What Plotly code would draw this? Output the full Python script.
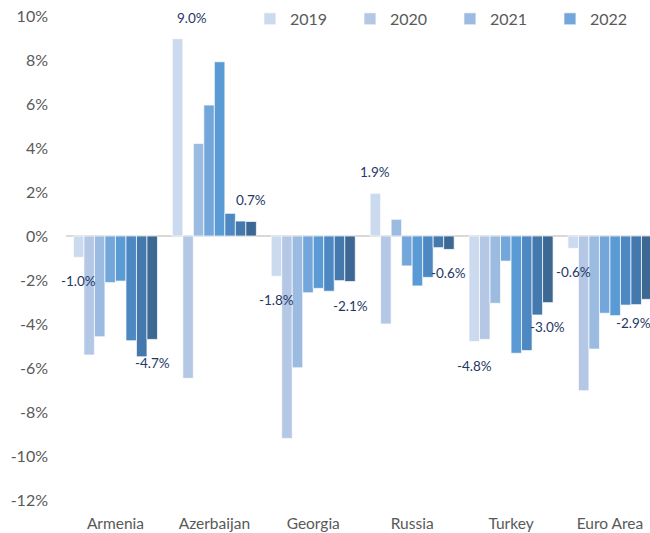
import plotly.graph_objects as go

categories = ["Armenia", "Azerbaijan", "Georgia", "Russia", "Turkey", "Euro Area"]
series_names = ["2019", "2020", "2021", "2022", "2023", "2024", "2025", "2026"]

s2019 = [-0.97, 8.97, -1.83, 1.94, -4.80, -0.56]
s2020 = [-5.41, -6.47, -9.20, -4.00, -4.70, -7.03]
s2021 = [-4.58, 4.21, -5.99, 0.76, -3.06, -5.14]
s2022 = [-2.12, 5.95, -2.58, -1.36, -1.14, -3.51]
s2023 = [-2.05, 7.92, -2.38, -2.27, -5.33, -3.62]
s2024 = [-4.76, 1.03, -2.51, -1.88, -5.21, -3.14]
s2025 = [-5.49, 0.68, -2.03, -0.53, -3.59, -3.12]
s2026 = [-4.70, 0.66, -2.07, -0.61, -3.03, -2.88]
series_values = [s2019, s2020, s2021, s2022, s2023, s2024, s2025, s2026]

y_ticks = [-12, -10, -8, -6, -4, -2, 0, 2, 4, 6, 8, 10]
y_ticktext = [f"{t}%" for t in y_ticks]

colors = ["#cbdaee", "#b4c8e6", "#9bbbe1", "#73a6da", "#5b9bd5", "#4d88c2", "#4479ad", "#3d6894"]

fig = go.Figure()
for i, (name, vals) in enumerate(zip(series_names, series_values)):
    fig.add_trace(go.Bar(
        x=categories, y=vals, name=name,
        marker=dict(color=colors[i], line=dict(color="white", width=0.7)),
        showlegend=(i < 4),
        hoverinfo="x+y+name",
    ))

# data labels for first and last series
n = len(series_names)
bargap = 0.15
bw = (1 - bargap) / n
label_nudge_x = {(1, 0): 14, (5, n - 1): -13}
annotations = []
for si in (0, n - 1):
    off = -(1 - bargap) / 2 + (si + 0.5) * bw
    for ci, v in enumerate(series_values[si]):
        annotations.append(dict(
            x=ci + off, y=v, xref="x", yref="y",
            text=f"{v:.1f}%", showarrow=False,
            yshift=21 if v > 0 else -24,
            xshift=label_nudge_x.get((ci, si), 0),
            font=dict(family="Lato", size=13.5, color="#1f3864"),
        ))

fig.update_layout(
    width=650, height=533,
    barmode="group", bargap=bargap, bargroupgap=0,
    plot_bgcolor="white", paper_bgcolor="white",
    margin=dict(l=66, r=0, t=16, b=33, autoexpand=False),
    font=dict(family="Lato", color="#595959", size=16),
    annotations=annotations,
    legend=dict(
        orientation="h", x=0.315, xanchor="left", y=0.994, yanchor="middle",
        font=dict(family="Lato", size=16, color="#595959"),
        entrywidth=55, bgcolor="rgba(0,0,0,0)",
    ),
    xaxis=dict(
        range=[-0.5, -0.5 + 584 / 98.9], showgrid=False, showline=False,
        ticks="", tickfont=dict(size=15.5, color="#595959"), automargin=False,
        ticklabelstandoff=12,
    ),
    yaxis=dict(
        range=[-12, 10], tickvals=y_ticks, ticktext=y_ticktext, showgrid=False,
        zeroline=True, zerolinecolor="#d9d9d9", zerolinewidth=1.5,
        showline=False, ticks="", ticklabelstandoff=17, automargin=False,
        tickfont=dict(size=16, color="#595959"),
    ),
)

fig.write_html("out.html", config={"displayModeBar": False},
               post_script="document.body.style.margin='0';")
